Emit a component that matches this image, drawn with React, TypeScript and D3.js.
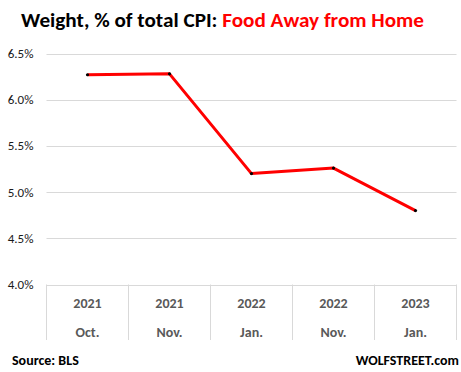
import React from 'react';
import * as d3 from 'd3';

const years = ['2021', '2021', '2022', '2022', '2023'];
const months = ['Oct.', 'Nov.', 'Jan.', 'Nov.', 'Jan.'];
const weights = [6.27, 6.28, 5.2, 5.26, 4.8];
const yTicks = [4.0, 4.5, 5.0, 5.5, 6.0, 6.5];

const W = 461;
const H = 372;
const left = 46.5;
const right = 456.5;
const top = 53.5;
const bottom = 284.5;

const font = "Calibri, Carlito, 'Open Sans', sans-serif";

export default function App() {
  const keys = years.map((y, i) => `${y}-${months[i]}-${i}`);
  const x = d3.scaleBand().domain(keys).range([left, right]);
  const y = d3.scaleLinear().domain([4, 6.5]).range([bottom, top]);
  const line = d3
    .line<number>()
    .x((_, i) => x(keys[i])! + x.bandwidth() / 2)
    .y((d) => y(d));

  return (
    <svg
      width={W}
      height={H}
      style={{ position: 'absolute', left: 0, top: 0, background: '#fff' }}
      fontFamily={font}
    >
      <text x={21} y={26.5} fontSize={20} fontWeight="bold" textLength={403} lengthAdjust="spacingAndGlyphs">
        <tspan fill="#000">Weight, % of total CPI: </tspan>
        <tspan fill="#ff0000">Food Away from Home</tspan>
      </text>

      {/* gridlines + y labels */}
      {yTicks.map((t) => (
        <g key={t}>
          <line x1={left} x2={right} y1={Math.round(y(t)) + 0.5} y2={Math.round(y(t)) + 0.5} stroke="#d9d9d9" strokeWidth={1} />
          <text x={33.5} y={y(t) + 4.5} fontSize={13} textAnchor="end" fill="#1a1a1a">
            {t.toFixed(1)}%
          </text>
        </g>
      ))}

      {/* category separators */}
      {keys.map((k) => (
        <line key={k} x1={x(k)} x2={x(k)} y1={bottom} y2={340} stroke="#d9d9d9" strokeWidth={1} />
      ))}
      <line x1={right} x2={right} y1={bottom} y2={340} stroke="#d9d9d9" strokeWidth={1} />

      {/* category labels */}
      {keys.map((k, i) => (
        <g key={'l' + k} fontSize={14} fontWeight="bold" fill="#595959" textAnchor="middle">
          <text x={x(k)! + x.bandwidth() / 2} y={308}>{years[i]}</text>
          <text x={x(k)! + x.bandwidth() / 2} y={336.5}>{months[i]}</text>
        </g>
      ))}

      {/* series */}
      <path d={line(weights)!} fill="none" stroke="#ff0000" strokeWidth={3} strokeLinejoin="round" />
      {weights.map((v, i) => (
        <circle key={i} cx={x(keys[i])! + x.bandwidth() / 2} cy={y(v)} r={1.6} fill="#000" />
      ))}

      <text x={12} y={365} fontSize={14} fontWeight="bold" fill="#000">Source: BLS</text>
      <text x={459} y={365} fontSize={14} fontWeight="bold" fill="#000" textAnchor="end">WOLFSTREET.com</text>
    </svg>
  );
}
